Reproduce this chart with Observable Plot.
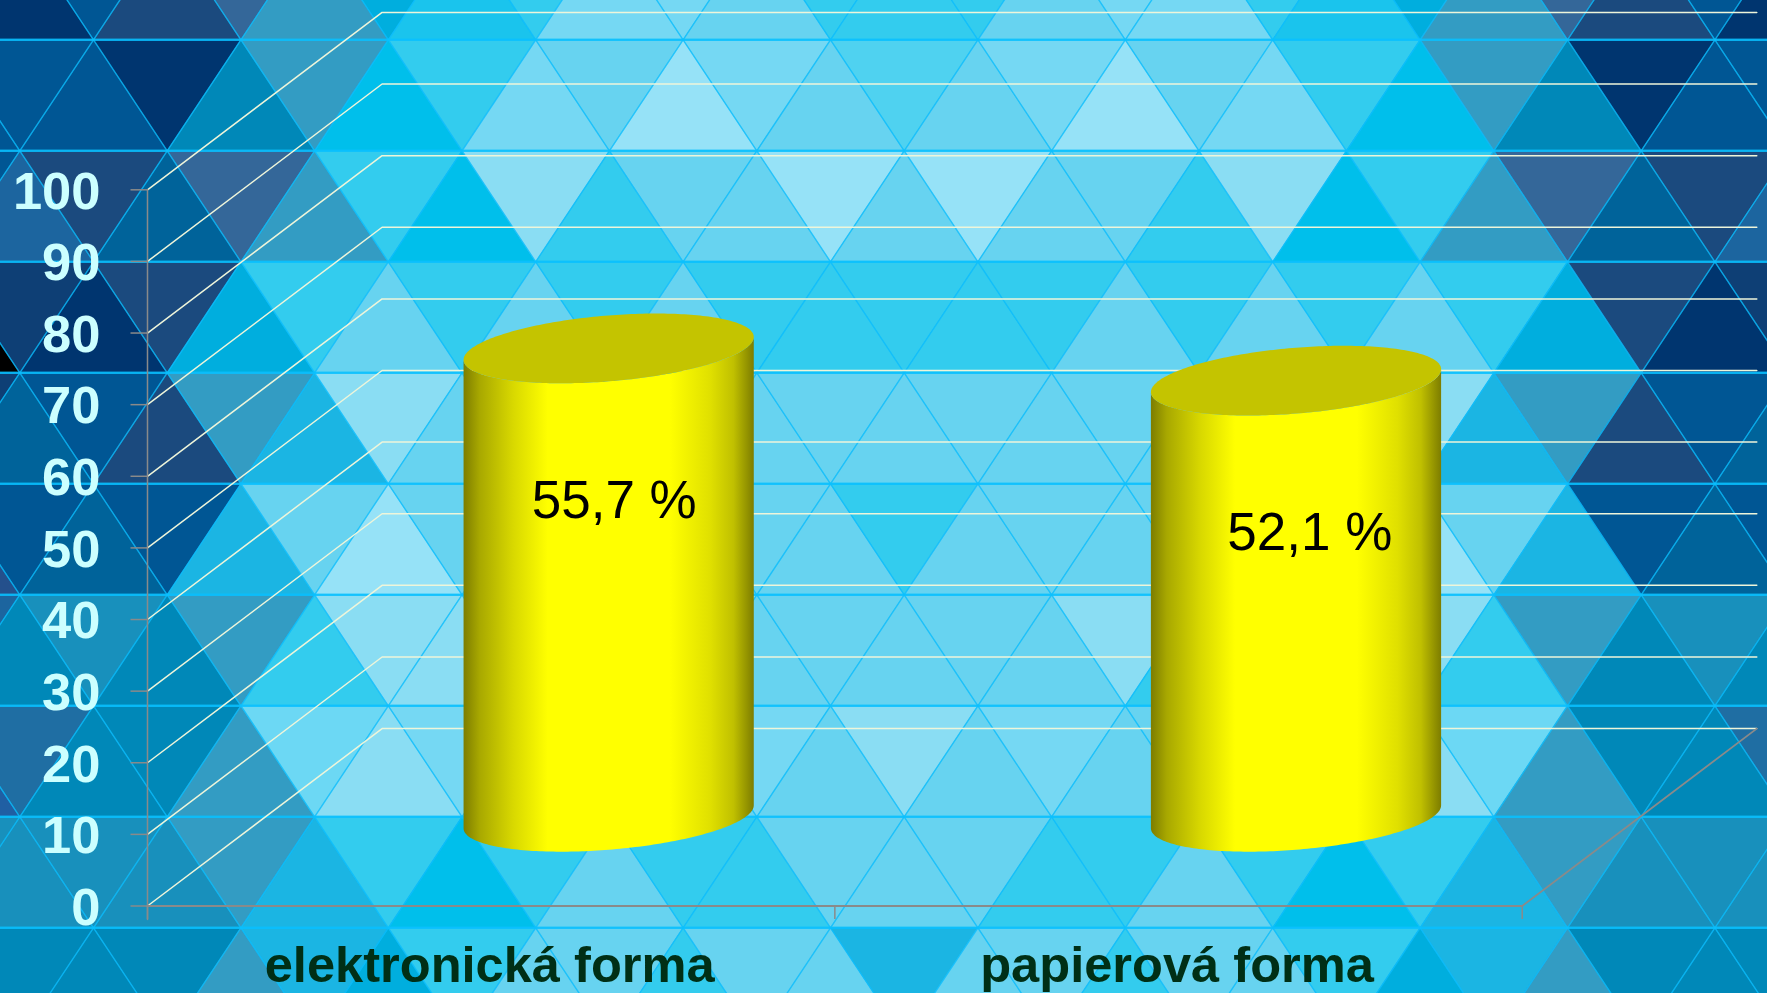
<!DOCTYPE html>
<html lang="sk">
<head>
<meta charset="utf-8">
<title>elektronická a papierová forma</title>
<script src="https://cdn.jsdelivr.net/npm/d3@7"></script>
<script src="https://cdn.jsdelivr.net/npm/@observablehq/plot@0.6"></script>
<style>
  html, body { margin: 0; padding: 0; background: #00356f; overflow: hidden; }
  #chart svg { display: block; }
</style>
</head>
<body>
<div id="chart"></div>
<script>
// ---- chart values ----
const categories = ["elektronická forma", "papierová forma"];
const valueLabels = ["55,7 %", "52,1 %"];
const cylinderHeights = [65.4, 60.9];      // height of each cylinder
const labelHeights = [56.5, 52.1];         // axis level of the printed percentages
const labelOffsets = [0.679, 1.691];       // position along the category axis
const yTicks = [0, 10, 20, 30, 40, 50, 60, 70, 80, 90, 100];
const xTicks = [0, 1, 2];

// ---- 3D box and cylinder proportions, in axis units ----
const depthX = 0.3413, depthY = 24.77;
const radiusX = 0.2111, radiusY = 4.6, tilt = 1.6, centreShift = 0.001;
const tickLengthX = 0.024, tickLengthY = 1.9, tickLabelX = -0.0684, categoryLabelY = -8.37;

// ---- background mosaic: one letter per triangle, one string per row ----
const mosaicColors = {
  N: "#00356f", V: "#0e3f75", B: "#005694", C: "#1b4a7e", D: "#346799", G: "#00639a",
  I: "#1c659f", Z: "#205fa3", X: "#24508c", A: "#1f6ea3", W: "#000000",
  F: "#0088b8", H: "#1890bc", E: "#339cc3", J: "#00aede", K: "#00bfeb", L: "#1bb5e3",
  U: "#1ac4ed", M: "#33ccee", T: "#4fd2f0", P: "#67d3f0", Y: "#6cd8f4", Q: "#75d8f3",
  R: "#8addf3", S: "#96e2f7"
};
const mosaicRows = [
  "BNBCDEJUMQQPMMMPQQMUJEDCBN",
  "BBBNFEKMQPSQPTPQSPQMKEFNBB",
  "BICGDEMKRMPPSPSPPMRKMEDGCI",
  "WVNCJMPMPMPMMMMMPMPMPMJCNV",
  "VGBCELRPPPPPPPPPPPPPRLECBG",
  "XBGBLPSPPPPPPMPPPPPPSPLBGB",
  "IFHFEMRRPMRPPPPPRMPRRMEFHF",
  "ZAFFEYRQPPPQPRPQPPPQRYEFFA",
  "HHHHELMKMPMMPPPMMPMKMLEHHH",
  "FFFFELJMPPMPPLPPMPPMJLEFFF"
];

// Triangles in grid units: c = half-side column, r = row
const triangleVertices = [];
mosaicRows.forEach((codes, i) => {
  const r = i - 1;
  [...codes].forEach((code, j) => {
    const c = j - 1;
    const up = ((r % 2 + 2) % 2 === 0) === (((c % 2) + 2) % 2 === 1);
    const id = `${r}:${c}`, color = mosaicColors[code];
    const pts = up
      ? [[c, r], [c - 1, r + 1], [c + 1, r + 1]]
      : [[c, r + 1], [c - 1, r], [c + 1, r]];
    pts.forEach(([x, y]) => triangleVertices.push({id, color, x, y}));
  });
});
const mosaicLevels = d3.range(0, 9);

const fontFamily = "'Liberation Sans', Arial, sans-serif";

function mosaic() {
  return Plot.plot({
    width: 1767, height: 993, margin: 0,
    style: {background: "none"},
    x: {domain: [0, 24], range: [19.3, 1788.1], axis: null},
    y: {domain: [0, 9], range: [39.3, 1038.3], axis: null},
    color: {type: "identity"},
    marks: [
      Plot.line(triangleVertices, {x: "x", y: "y", z: "id", fill: "color", stroke: "color",
        strokeWidth: 0.6, curve: "linear-closed"}),
      Plot.line(triangleVertices, {x: "x", y: "y", z: "id", fill: "none", stroke: "#0cc0ff",
        strokeOpacity: 0.55, strokeWidth: 1.3, curve: "linear-closed"}),
      Plot.ruleY(mosaicLevels, {y: d => d, stroke: "#08c0ff", strokeOpacity: 0.72, strokeWidth: 2.6})
    ]
  });
}

// Cylinder outlines, sampled in axis units around each category's centre
const angles = d3.range(0, 121).map(i => i * Math.PI / 120);
const baseLevel = depthY / 2;
const cylinders = cylinderHeights.flatMap((h, i) => angles.map(t => {
  const cx = i + 0.5 + depthX / 2 + centreShift;
  const cos = Math.cos(t), sin = Math.sin(t);
  return {
    i,
    x: cx + radiusX * cos,
    bottomLow: baseLevel + tilt * cos - radiusY * sin,
    topLow: baseLevel + h + tilt * cos - radiusY * sin,
    topHigh: baseLevel + h + tilt * cos + radiusY * sin
  };
}));

const gradient = () => {
  const defs = d3.create("svg:defs");
  const g = defs.append("linearGradient").attr("id", "cylinderShade")
    .attr("x1", 0).attr("x2", 1).attr("y1", 0).attr("y2", 0);
  [[0, "#7d7d00"], [0.055, "#a8a800"], [0.17, "#d8d800"], [0.29, "#ffff00"],
   [0.71, "#ffff00"], [0.85, "#e0e000"], [0.93, "#c0c000"], [1, "#7d7d00"]]
    .forEach(([o, c]) => g.append("stop").attr("offset", o).attr("stop-color", c));
  return defs.node();
};

const axisGray = "#8a8a8a";
const gridPath = yTicks.flatMap(v => [
  {v, x: 0, y: v},
  {v, x: depthX, y: v + depthY},
  {v, x: 2 + depthX, y: v + depthY}
]);
const floorLine = [{x: xTicks[0], y: 0}, {x: xTicks[2], y: 0}, {x: xTicks[2] + depthX, y: depthY}];
const wallLine = [{x: 0, y: -tickLengthY}, {x: 0, y: 100}];

const chart = Plot.plot({
  width: 1767, height: 993, margin: 0,
  style: {background: "none", fontFamily},
  x: {domain: [0, 2], range: [147, 1521.7], axis: null},
  y: {domain: [0, 100], range: [905.5, 189.3], axis: null},
  marks: [
    mosaic,
    gradient,
    Plot.line(gridPath, {x: "x", y: "y", z: "v", stroke: "#eef5da", strokeWidth: 1.5}),
    Plot.line(floorLine, {x: "x", y: "y", stroke: axisGray, strokeWidth: 1.8}),
    Plot.line(wallLine, {x: "x", y: "y", stroke: axisGray, strokeWidth: 1.5}),
    Plot.ruleX(xTicks, {x: d => d, y1: () => 0, y2: () => -tickLengthY, stroke: axisGray, strokeWidth: 1.5}),
    Plot.ruleY(yTicks, {y: d => d, x1: () => -tickLengthX, x2: () => 0, stroke: axisGray, strokeWidth: 1.5}),
    Plot.text(yTicks, {
      x: () => tickLabelX, y: d => d, text: d => String(d),
      fill: "#ccffff", fontSize: 52.5, fontWeight: 700, fontFamily,
      textAnchor: "end", lineAnchor: "middle", dy: 2
    }),
    Plot.areaY(cylinders, {x: "x", y1: "bottomLow", y2: "topLow", z: "i", fill: "url(#cylinderShade)"}),
    Plot.areaY(cylinders, {x: "x", y1: "topLow", y2: "topHigh", z: "i", fill: "#c4c400"}),
    Plot.text(valueLabels, {
      x: (d, i) => labelOffsets[i], y: (d, i) => labelHeights[i], text: d => d,
      fill: "#000000", fontSize: 53, fontFamily, textAnchor: "middle", lineAnchor: "middle"
    }),
    Plot.text(categories, {
      x: (d, i) => i + 0.5, y: () => categoryLabelY, text: d => d,
      fill: "#002f16", fontSize: 50.6, fontWeight: 700, fontFamily,
      textAnchor: "middle", lineAnchor: "middle", dx: -1.5
    })
  ]
});
document.getElementById("chart").append(chart);
</script>
</body>
</html>
